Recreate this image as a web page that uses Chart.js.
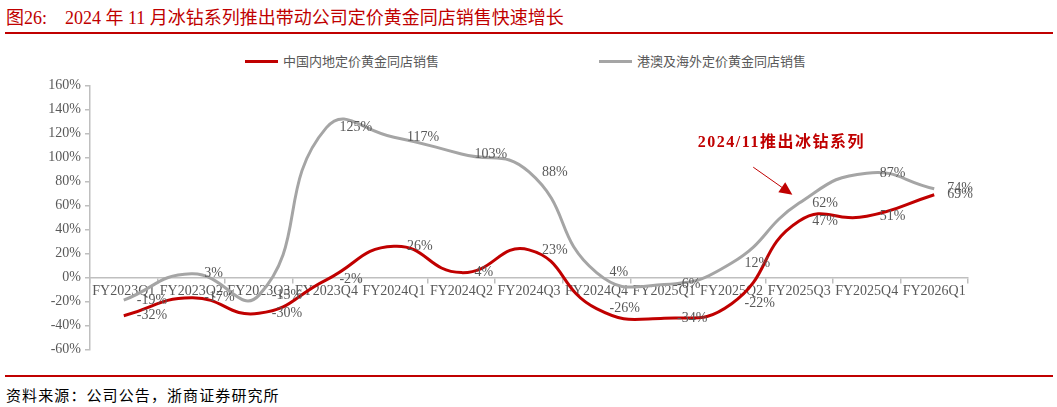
<!DOCTYPE html>
<html>
<head>
<meta charset="utf-8">
<script src="https://cdn.jsdelivr.net/npm/chart.js@4.4.0/dist/chart.umd.min.js"></script>
<style>
  body { margin: 0; width: 1057px; height: 407px; background: #fff; position: relative; overflow: hidden; }
  #title { position: absolute; left: 6px; top: 3px; font: 18px "Liberation Serif", "Noto Sans CJK SC", serif; color: #c00000; white-space: pre; }
  .rule { position: absolute; left: 5px; width: 1048px; height: 1.5px; background: #c00000; }
  #legend { position: absolute; top: 52px; left: 0; width: 1057px; height: 18px; }
  .item { position: absolute; top: 0; height: 18px; font: 13px "Noto Sans CJK SC", sans-serif; color: #595959; line-height: 18px; }
  .item span.swatch { position: absolute; left: 0; top: 8px; width: 33px; height: 3px; }
  .item span.txt { position: absolute; left: 38px; white-space: nowrap; }
  #chartBox { position: absolute; left: 0; top: 70px; width: 1057px; height: 300px; }
  #source { position: absolute; left: 6px; top: 384px; font: 15px "Noto Sans CJK SC", sans-serif; color: #000; letter-spacing: 1.1px; white-space: pre; }
</style>
</head>
<body>
<div id="title">图26:    2024 年 11 月冰钻系列推出带动公司定价黄金同店销售快速增长</div>
<div class="rule" style="top:32px"></div>
<div id="legend"></div>
<div id="chartBox"><canvas id="myChart"></canvas></div>
<div class="rule" style="top:375px"></div>
<div id="source">资料来源：公司公告，浙商证券研究所</div>
<script>
const quarters = ['FY2023Q1', 'FY2023Q2', 'FY2023Q3', 'FY2023Q4', 'FY2024Q1', 'FY2024Q2', 'FY2024Q3',
  'FY2024Q4', 'FY2025Q1', 'FY2025Q2', 'FY2025Q3', 'FY2025Q4', 'FY2026Q1'];
const mainland = [-32, -17, -30, -2, 26, 4, 23, -26, -34, -22, 47, 51, 69];
const overseas = [-19, 3, -15, 125, 117, 103, 88, 4, -6, 12, 62, 87, 74];
const seriesNames = ['中国内地定价黄金同店销售', '港澳及海外定价黄金同店销售'];
const yTicks = [-60, -40, -20, 0, 20, 40, 60, 80, 100, 120, 140, 160];
// note text + where it sits (category index, %), arrow start/end
const noteText = '2024/11推出冰钻系列';
const noteAt = [8.5, 112];
const arrowFrom = [9.32, 92];
const arrowTo = [9.9, 69];

const red = '#c00000';
const grey = '#a5a5a5';
const axisGrey = '#bfbfbf';
const labelGrey = '#595959';
const serif = '"Liberation Serif", "Times New Roman", serif';

// legend drawn as html, from the datasets
const legendPos = [245, 599];
[red, grey].forEach((c, i) => {
  const el = document.createElement('div');
  el.className = 'item';
  el.style.left = legendPos[i] + 'px';
  el.innerHTML = '<span class="swatch" style="background:' + c + '"></span><span class="txt">' + seriesNames[i] + '</span>';
  document.getElementById('legend').appendChild(el);
});

const valueLabels = {
  id: 'valueLabels',
  afterDatasetsDraw(chart) {
    const ctx = chart.ctx;
    ctx.save();
    ctx.font = '14px ' + serif;
    ctx.fillStyle = labelGrey;
    ctx.textAlign = 'left';
    ctx.textBaseline = 'middle';
    [1, 0].forEach((di) => {
      const meta = chart.getDatasetMeta(di);
      meta.data.forEach((pt, i) => {
        ctx.fillText(chart.data.datasets[di].data[i] + '%', pt.x + 13, pt.y);
      });
    });
    ctx.restore();
  }
};

const note = {
  id: 'note',
  afterDraw(chart) {
    const ctx = chart.ctx;
    const x = chart.scales.x, y = chart.scales.y;
    ctx.save();
    ctx.font = 'bold 16px ' + serif + ', "Noto Sans CJK SC"';
    ctx.letterSpacing = '1.5px';
    ctx.fillStyle = red;
    ctx.textBaseline = 'middle';
    ctx.fillText(noteText, x.getPixelForValue(noteAt[0]), y.getPixelForValue(noteAt[1]));
    const x0 = x.getPixelForValue(arrowFrom[0]), y0 = y.getPixelForValue(arrowFrom[1]);
    const x1 = x.getPixelForValue(arrowTo[0]), y1 = y.getPixelForValue(arrowTo[1]);
    const a = Math.atan2(y1 - y0, x1 - x0);
    ctx.strokeStyle = red;
    ctx.lineWidth = 1;
    ctx.beginPath();
    ctx.moveTo(x0, y0);
    ctx.lineTo(x1 - 10 * Math.cos(a), y1 - 10 * Math.sin(a));
    ctx.stroke();
    ctx.beginPath();
    ctx.moveTo(x1, y1);
    ctx.lineTo(x1 - 13 * Math.cos(a) + 6 * Math.sin(a), y1 - 13 * Math.sin(a) - 6 * Math.cos(a));
    ctx.lineTo(x1 - 13 * Math.cos(a) - 6 * Math.sin(a), y1 - 13 * Math.sin(a) + 6 * Math.cos(a));
    ctx.closePath();
    ctx.fill();
    ctx.restore();
  }
};

const ctx = document.getElementById('myChart').getContext('2d');
const chart = new Chart(ctx, {
  type: 'line',
  data: {
    labels: quarters,
    datasets: [{
      label: seriesNames[0],
      data: mainland,
      borderColor: red,
      borderWidth: 3,
      tension: 0.5,
      pointRadius: 0
    }, {
      label: seriesNames[1],
      data: overseas,
      borderColor: grey,
      borderWidth: 3,
      tension: 0.5,
      pointRadius: 0
    }]
  },
  options: {
    responsive: true,
    maintainAspectRatio: false,
    animation: false,
    layout: { padding: { top: 15.7, bottom: 20.7, left: 0, right: 89 } },
    plugins: { legend: { display: false }, tooltip: { enabled: false } },
    scales: {
      x: {
        position: { y: 0 },
        offset: true,
        border: { color: axisGrey, width: 1.5 },
        grid: { offset: true, drawOnChartArea: false, drawTicks: true, tickLength: 5, color: axisGrey, lineWidth: 1.5 },
        ticks: { color: labelGrey, font: { family: serif, size: 14 }, padding: 1, maxRotation: 0, autoSkip: false }
      },
      y: {
        min: -60,
        max: 160,
        afterBuildTicks: (s) => { s.ticks = yTicks.map((v) => ({ value: v })); },
        afterFit: (s) => { s.width = 90; },
        border: { color: axisGrey, width: 1.5 },
        grid: { drawOnChartArea: false, drawTicks: true, tickLength: 5, color: axisGrey, lineWidth: 1.5 },
        ticks: { color: labelGrey, font: { family: serif, size: 14 }, padding: 4, callback: (v) => v + '%' }
      }
    }
  },
  plugins: [valueLabels, note]
});
</script>
</body>
</html>
